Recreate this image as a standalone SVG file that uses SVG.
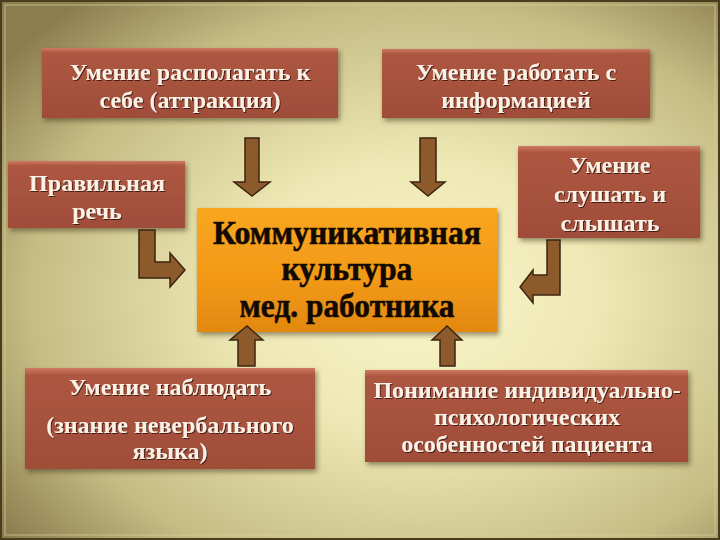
<svg xmlns="http://www.w3.org/2000/svg" width="720" height="540" viewBox="0 0 720 540">
<defs>
<radialGradient id="bg" cx="0.58" cy="0.55" r="0.72">
<stop offset="0" stop-color="#f8f5c8"/>
<stop offset="0.35" stop-color="#eee8b4"/>
<stop offset="0.75" stop-color="#c5bc84"/>
<stop offset="1" stop-color="#8c7d4e"/>
</radialGradient>
<linearGradient id="box" x1="0" y1="0" x2="0" y2="1">
<stop offset="0" stop-color="#cf7a62"/>
<stop offset="0.07" stop-color="#ad5641"/>
<stop offset="1" stop-color="#a04d39"/>
</linearGradient>
<linearGradient id="core" x1="0" y1="0" x2="0" y2="1">
<stop offset="0" stop-color="#f9a620"/>
<stop offset="0.6" stop-color="#f29817"/>
<stop offset="1" stop-color="#e28810"/>
</linearGradient>
<filter id="sh" x="-10%" y="-10%" width="125%" height="130%">
<feDropShadow dx="2" dy="3" stdDeviation="2.5" flood-color="#3a2a10" flood-opacity="0.5"/>
</filter>
<filter id="ts" x="-5%" y="-20%" width="110%" height="150%">
<feDropShadow dx="1" dy="1" stdDeviation="0.6" flood-color="#3a1408" flood-opacity="0.9"/>
</filter>
</defs>
<style>
.box{fill:url(#box);filter:url(#sh)}
.t{font-family:"Liberation Serif","Times New Roman",serif;font-weight:bold;font-size:24px;fill:#fdf1e6;text-anchor:middle;filter:url(#ts)}
.c{font-family:"Liberation Serif","Times New Roman",serif;font-weight:bold;font-size:34px;fill:#120a02;text-anchor:middle;stroke:#120a02;stroke-width:0.6}
.arr{fill:#8d5a2b;stroke:#3b2510;stroke-width:1.5}
</style>
<rect width="720" height="540" fill="url(#bg)"/>
<rect x="1" y="1" width="718" height="538" fill="none" stroke="#4a3d1e" stroke-width="2"/>
<rect x="5" y="5" width="710" height="530" fill="none" stroke="#d8d0a0" stroke-width="1" opacity="0.7"/>

<g id="n1">
<rect class="box" x="42" y="48" width="296" height="70"/>
<text class="t" x="190" y="80">Умение располагать к</text>
<text class="t" x="190" y="108">себе (аттракция)</text>
</g>
<g id="n2">
<rect class="box" x="382" y="49" width="268" height="69"/>
<text class="t" x="516" y="80">Умение работать с</text>
<text class="t" x="516" y="108">информацией</text>
</g>
<g id="n3">
<rect class="box" x="8" y="161" width="177" height="67"/>
<text class="t" x="97" y="191">Правильная</text>
<text class="t" x="97" y="219">речь</text>
</g>
<g id="n4">
<rect class="box" x="518" y="146" width="182" height="92"/>
<text class="t" x="610" y="173">Умение</text>
<text class="t" x="610" y="202">слушать и</text>
<text class="t" x="610" y="231">слышать</text>
</g>
<g id="center">
<rect x="197" y="208" width="300" height="124" fill="url(#core)" filter="url(#sh)"/>
<text class="c" x="347" y="244" textLength="268" lengthAdjust="spacingAndGlyphs">Коммуникативная</text>
<text class="c" x="347" y="280" textLength="131" lengthAdjust="spacingAndGlyphs">культура</text>
<text class="c" x="347" y="317" textLength="215" lengthAdjust="spacingAndGlyphs">мед. работника</text>
</g>
<g id="n5">
<rect class="box" x="25" y="368" width="290" height="101"/>
<text class="t" x="170" y="395">Умение наблюдать</text>
<text class="t" x="170" y="433">(знание невербального</text>
<text class="t" x="170" y="459">языка)</text>
</g>
<g id="n6">
<rect class="box" x="365" y="370" width="323" height="92"/>
<text class="t" x="527" y="398">Понимание индивидуально-</text>
<text class="t" x="527" y="425">психологических</text>
<text class="t" x="527" y="452">особенностей пациента</text>
</g>

<g id="connectors">
<path class="arr" d="M245,138 H259 V182 H270 L252,196 L234,182 H245 Z"/>
<path class="arr" d="M420,138 H436 V182 H445 L428,196 L411,182 H420 Z"/>
<path class="arr" d="M139,230 H155 V262 H170 V253 L185,270 L170,287 V278 H139 Z"/>
<path class="arr" d="M560,240 H547 V275 H533 V270 L520,287 L533,303 V295 H560 Z"/>
<path class="arr" d="M238,366 V340 H230 L247,326 L263,340 H255 V366 Z"/>
<path class="arr" d="M440,366 V340 H432 L447,326 L462,340 H455 V366 Z"/>
</g>
</svg>
